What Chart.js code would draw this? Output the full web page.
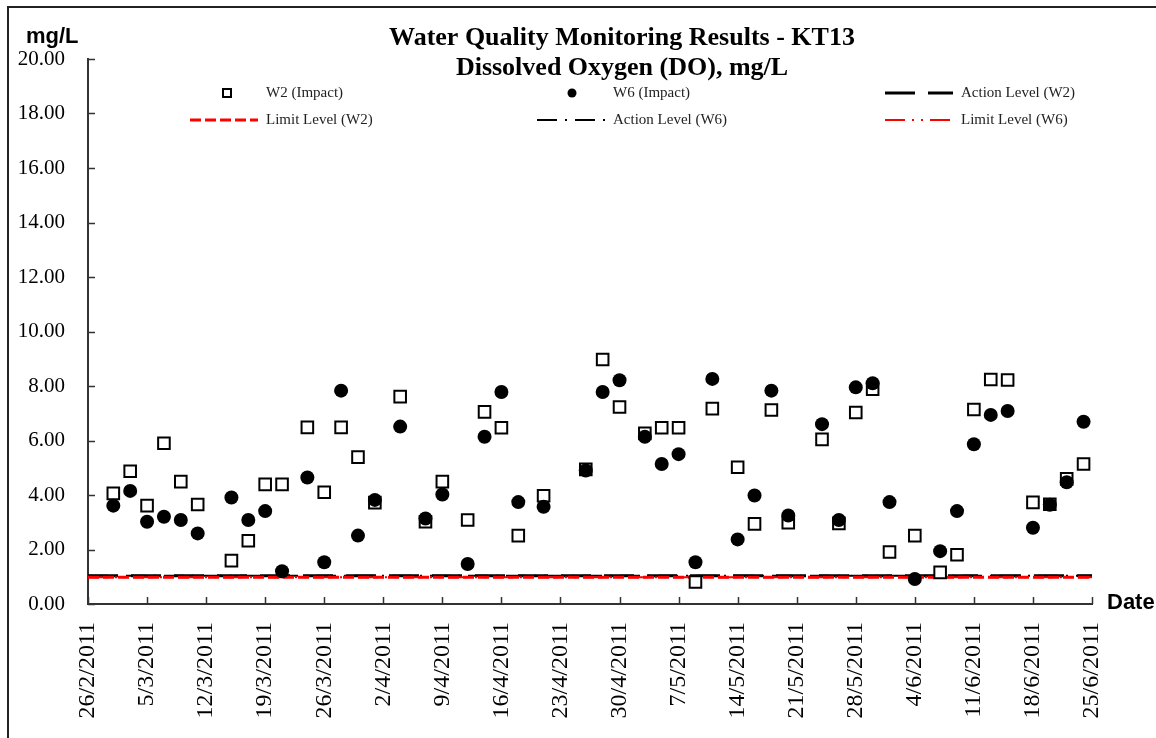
<!DOCTYPE html>
<html>
<head>
<meta charset="utf-8">
<title>Water Quality Monitoring Results - KT13</title>
<script src="https://cdn.jsdelivr.net/npm/chart.js@4.4.1/dist/chart.umd.min.js"></script>
<style>
    html, body { margin: 0; padding: 0; background: #fff; }
    #wrap { width: 1156px; height: 738px; }
</style>
</head>
<body>
<div id="wrap"><canvas id="myChart" width="1156" height="738"></canvas></div>
<script>
// sampling dates (d/m/yyyy) and DO readings, mg/L
var sampleDates = ['1/3/2011', '3/3/2011', '5/3/2011', '7/3/2011', '9/3/2011', '11/3/2011', '15/3/2011', '17/3/2011',
    '19/3/2011', '21/3/2011', '24/3/2011', '26/3/2011', '28/3/2011', '30/3/2011', '1/4/2011', '4/4/2011', '7/4/2011',
    '9/4/2011', '12/4/2011', '14/4/2011', '16/4/2011', '18/4/2011', '21/4/2011', '26/4/2011', '28/4/2011', '30/4/2011',
    '3/5/2011', '5/5/2011', '7/5/2011', '9/5/2011', '11/5/2011', '14/5/2011', '16/5/2011', '18/5/2011', '20/5/2011',
    '24/5/2011', '26/5/2011', '28/5/2011', '30/5/2011', '1/6/2011', '4/6/2011', '7/6/2011', '9/6/2011', '11/6/2011',
    '13/6/2011', '15/6/2011', '18/6/2011', '20/6/2011', '22/6/2011', '24/6/2011'];

var w2Values = [4.06, 4.87, 3.61, 5.90, 4.49, 3.65, 1.59, 2.32, 4.39, 4.39,
    6.48, 4.10, 6.48, 5.39, 3.72, 7.61, 3.02, 4.49, 3.08, 7.05,
    6.47, 2.51, 3.97, 4.94, 8.97, 7.23, 6.26, 6.47, 6.47, 0.81,
    7.17, 5.02, 2.94, 7.12, 2.98, 6.04, 2.96, 7.03, 7.88, 1.91,
    2.51, 1.16, 1.81, 7.14, 8.24, 8.22, 3.73, 3.66, 4.59, 5.14];

var w6Values = [3.61, 4.15, 3.02, 3.20, 3.08, 2.59, 3.91, 3.08, 3.41, 1.20,
    4.64, 1.53, 7.83, 2.51, 3.82, 6.51, 3.14, 4.02, 1.47, 6.14,
    7.78, 3.74, 3.57, 4.90, 7.78, 8.21, 6.14, 5.14, 5.50, 1.53,
    8.26, 2.37, 3.98, 7.83, 3.25, 6.60, 3.08, 7.95, 8.10, 3.74,
    0.92, 1.94, 3.41, 5.86, 6.94, 7.08, 2.80, 3.64, 4.47, 6.69];

// action / limit levels run across the whole period
var levelDates = ['26/2/2011', '25/6/2011'];
var actionW2 = [1.04, 1.04];
var limitW2 = [0.98, 0.98];
var actionW6 = [1.04, 1.04];
var limitW6 = [0.98, 0.98];

var yTicks = [0, 2, 4, 6, 8, 10, 12, 14, 16, 18, 20];

var serif = '"Liberation Serif", "Times New Roman", serif';
var sans = '"Liberation Sans", Arial, sans-serif';

var startDate = new Date(2011, 1, 26);

// days since 26/2/2011
function dayOf(s) {
    var p = s.split('/');
    var d = new Date(+p[2], +p[1] - 1, +p[0]);
    return Math.round((d - startDate) / 86400000);
}

function dateLabel(n) {
    var d = new Date(2011, 1, 26 + n);
    return d.getDate() + '/' + (d.getMonth() + 1) + '/' + d.getFullYear();
}

function toPoints(dates, vals) {
    return dates.map(function (s, i) { return { x: dayOf(s), y: vals[i] }; });
}

function levelLine(label, vals, color, dash, width, order) {
    return {
        label: label,
        data: toPoints(levelDates, vals),
        showLine: true,
        pointRadius: 0,
        borderColor: color,
        borderWidth: width,
        borderDash: dash,
        fill: false,
        order: order
    };
}

// titles, frame, inner tick marks and a three-column legend
var decorations = {
    id: 'decorations',
    afterDraw: function (chart) {
        var ctx = chart.ctx;
        var xs = chart.scales.x, ys = chart.scales.y;
        var area = chart.chartArea;
        ctx.save();

        // frame
        ctx.strokeStyle = '#222';
        ctx.lineWidth = 2;
        ctx.strokeRect(8, 7, 1170, 760);

        // inner ticks
        ctx.strokeStyle = '#333';
        ctx.lineWidth = 1.5;
        ctx.beginPath();
        xs.ticks.forEach(function (t) {
            var px = Math.round(xs.getPixelForValue(t.value)) + 0.5;
            ctx.moveTo(px, area.bottom);
            ctx.lineTo(px, area.bottom - 7);
        });
        ys.ticks.forEach(function (t) {
            var py = Math.round(ys.getPixelForValue(t.value)) + 0.5;
            ctx.moveTo(area.left, py);
            ctx.lineTo(area.left + 7, py);
        });
        ctx.stroke();

        // titles
        ctx.fillStyle = '#000';
        ctx.textBaseline = 'alphabetic';
        ctx.textAlign = 'center';
        ctx.font = 'bold 26px ' + serif;
        ctx.fillText('Water Quality Monitoring Results - KT13', 622, 45);
        ctx.fillText('Dissolved Oxygen (DO), mg/L', 622, 75);

        ctx.textAlign = 'left';
        ctx.font = 'bold 22px ' + sans;
        ctx.fillText('mg/L', 26, 43);
        ctx.fillText('Date', 1107, 609);

        // legend
        var cols = [190, 537, 885];
        var rows = [93, 120];
        var sets = chart.data.datasets;
        ctx.font = '15px ' + serif;
        ctx.textBaseline = 'middle';
        sets.forEach(function (ds, i) {
            var cx = cols[i % 3], cy = rows[Math.floor(i / 3)];
            if (ds.showLine) {
                ctx.strokeStyle = ds.borderColor;
                ctx.lineWidth = ds.borderWidth;
                ctx.setLineDash(ds.borderDash || []);
                ctx.beginPath();
                ctx.moveTo(cx, cy);
                ctx.lineTo(cx + 68, cy);
                ctx.stroke();
                ctx.setLineDash([]);
            } else if (ds.pointStyle === 'rect') {
                ctx.strokeStyle = '#000';
                ctx.lineWidth = 2;
                ctx.fillStyle = '#fff';
                ctx.fillRect(cx + 33, cy - 4, 8, 8);
                ctx.strokeRect(cx + 33, cy - 4, 8, 8);
            } else {
                ctx.fillStyle = '#000';
                ctx.beginPath();
                ctx.arc(cx + 35, cy, 4.5, 0, Math.PI * 2);
                ctx.fill();
            }
            ctx.fillStyle = '#222';
            ctx.fillText(ds.label, cx + 76, cy);
        });
        ctx.restore();
    }
};

document.addEventListener('DOMContentLoaded', function () {
    var ctx = document.getElementById('myChart').getContext('2d');
    var myChart = new Chart(ctx, {
        type: 'scatter',
        data: {
            datasets: [
                {
                    label: 'W2 (Impact)',
                    data: toPoints(sampleDates, w2Values),
                    pointStyle: 'rect',
                    pointRadius: 8.2,
                    borderColor: '#000',
                    backgroundColor: '#fff',
                    borderWidth: 2,
                    order: 2
                },
                {
                    label: 'W6 (Impact)',
                    data: toPoints(sampleDates, w6Values),
                    pointStyle: 'circle',
                    pointRadius: 7,
                    borderColor: '#000',
                    backgroundColor: '#000',
                    borderWidth: 0,
                    order: 1
                },
                levelLine('Action Level (W2)', actionW2, '#000', [30, 13], 3, 6),
                levelLine('Limit Level (W2)', limitW2, '#ff0000', [11, 4], 3, 4),
                levelLine('Action Level (W6)', actionW6, '#000', [20, 8, 2, 8], 2, 5),
                levelLine('Limit Level (W6)', limitW6, '#ff0000', [20, 7, 2, 7, 2, 7], 2, 3)
            ]
        },
        options: {
            responsive: false,
            animation: false,
            layout: { padding: { top: 59, right: 64, bottom: 0, left: 0 } },
            plugins: {
                legend: { display: false },
                title: { display: false },
                tooltip: { enabled: false }
            },
            scales: {
                x: {
                    type: 'linear',
                    min: 0,
                    max: dayOf(levelDates[1]),
                    afterFit: function (scale) { scale.height = 134; },
                    afterBuildTicks: function (scale) {
                        var t = [];
                        for (var v = 0; v <= scale.max; v += 7) t.push({ value: v });
                        scale.ticks = t;
                    },
                    grid: { display: true, drawOnChartArea: false, drawTicks: false },
                    border: { color: '#333', width: 2 },
                    ticks: {
                        autoSkip: false,
                        maxRotation: 90,
                        minRotation: 90,
                        padding: 18,
                        color: '#000',
                        font: { family: serif, size: 24 },
                        callback: function (v) { return dateLabel(v); }
                    }
                },
                y: {
                    min: yTicks[0],
                    max: yTicks[yTicks.length - 1],
                    afterFit: function (scale) { scale.width = 88; },
                    afterBuildTicks: function (scale) {
                        scale.ticks = yTicks.map(function (v) { return { value: v }; });
                    },
                    grid: { display: true, drawOnChartArea: false, drawTicks: false },
                    border: { color: '#333', width: 2 },
                    ticks: {
                        padding: 23,
                        color: '#000',
                        font: { family: serif, size: 21 },
                        callback: function (v) { return v.toFixed(2); }
                    }
                }
            }
        },
        plugins: [decorations]
    });
});
</script>
</body>
</html>
